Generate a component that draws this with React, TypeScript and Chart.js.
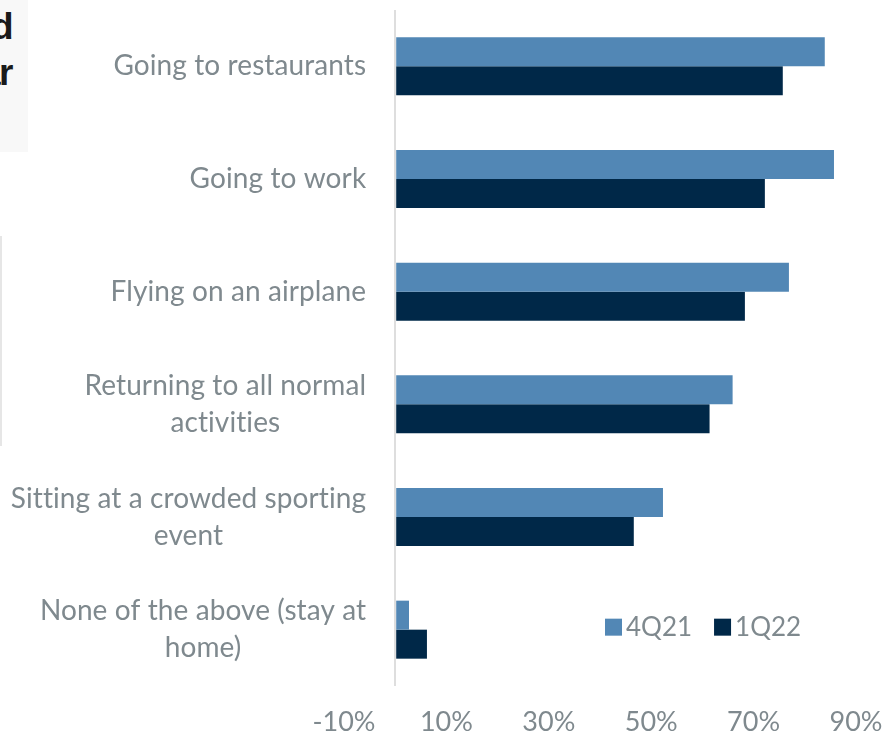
import React, { useEffect, useRef } from 'react';
import { Chart, registerables } from 'chart.js';

Chart.register(...registerables);

const categories: string[][] = [
  ['Going to restaurants'],
  ['Going to work'],
  ['Flying on an airplane'],
  ['Returning to all normal', 'activities'],
  ['Sitting at a crowded sporting', 'event'],
  ['None of the above (stay at', 'home)'],
];
const seriesNames = ['4Q21', '1Q22'];
const values4Q21 = [83.9, 85.7, 76.9, 65.9, 52.3, 2.7];
const values1Q22 = [75.7, 72.2, 68.3, 61.4, 46.6, 6.2];
const tickValues = [-10, 10, 30, 50, 70, 90];
const tickLabels = ['-10%', '10%', '30%', '50%', '70%', '90%'];

const COLORS = ['#5287b5', '#002848'];
const TEXT = '#7f898e';
const FONT = 'Lato, "Noto Sans", sans-serif';
const FS_CAT = 28;
const FS_TICK = 27;
const FS_LEG = 26;

const catLabelPlugin = {
  id: 'catLabels',
  afterDraw(chart: any) {
    const { ctx } = chart;
    const x = chart.scales.x;
    const y = chart.scales.y;
    ctx.save();
    ctx.font = `${FS_CAT}px ${FONT}`;
    try { (ctx as any).letterSpacing = '0.1px'; } catch (e) {}
    ctx.fillStyle = TEXT;
    ctx.textBaseline = 'middle';
    ctx.textAlign = 'center';
    const right = x.getPixelForValue(0) - 29;
    categories.forEach((lines, i) => {
      const cy = y.getPixelForValue(i);
      const w = Math.max(...lines.map((l) => ctx.measureText(l).width));
      const cx = right - w / 2;
      const lh = 37;
      lines.forEach((l, j) => {
        ctx.fillText(l, cx, cy + (j - (lines.length - 1) / 2) * lh);
      });
    });
    ctx.restore();
  },
};

const legendPlugin = {
  id: 'innerLegend',
  afterDraw(chart: any) {
    const { ctx, chartArea } = chart;
    const y = chart.scales.y;
    ctx.save();
    ctx.font = `${FS_LEG}px ${FONT}`;
    ctx.textBaseline = 'middle';
    ctx.textAlign = 'left';
    const cy = y.getPixelForValue(categories.length - 1) - 3;
    let lx = chartArea.right - 251;
    chart.data.datasets.forEach((ds: any) => {
      ctx.fillStyle = ds.backgroundColor;
      ctx.fillRect(lx, cy - 8, 17, 17);
      ctx.fillStyle = TEXT;
      ctx.fillText(ds.label, lx + 21, cy + 1);
      lx += 21 + ctx.measureText(ds.label).width + 22;
    });
    ctx.restore();
  },
};

export default function App() {
  const ref = useRef<HTMLCanvasElement | null>(null);
  useEffect(() => {
    if (!ref.current) return;
    const chart = new Chart(ref.current, {
      type: 'bar',
      data: {
        labels: categories.map((c) => c.join(' ')),
        datasets: [
          { label: seriesNames[0], data: values4Q21, backgroundColor: COLORS[0] },
          { label: seriesNames[1], data: values1Q22, backgroundColor: COLORS[1] },
        ],
      },
      options: {
        indexAxis: 'y',
        responsive: false,
        animation: false,
        layout: { padding: { left: 344, right: 31, top: 10, bottom: 2 } },
        datasets: { bar: { categoryPercentage: 0.515, barPercentage: 1 } },
        plugins: { legend: { display: false }, tooltip: { enabled: false } },
        scales: {
          y: { display: false },
          x: {
            min: -10,
            max: 90,
            afterBuildTicks: (scale: any) => {
              const vals = [...tickValues, 0].sort((a, b) => a - b);
              scale.ticks = vals.map((v) => ({ value: v }));
            },
            afterFit: (scale: any) => {
              scale.height = 51;
              scale.paddingLeft = 0;
              scale.paddingRight = 0;
            },
            border: { display: false },
            grid: {
              drawTicks: false,
              color: (c: any) => (c.tick && c.tick.value === 0 ? '#dedede' : 'rgba(0,0,0,0)'),
              lineWidth: 2,
            },
            ticks: {
              autoSkip: false,
              maxRotation: 0,
              padding: 20,
              color: TEXT,
              font: { family: FONT, size: FS_TICK },
              callback: (v: any) => {
                const idx = tickValues.indexOf(Number(v));
                return idx >= 0 ? tickLabels[idx] : '';
              },
            },
          },
        },
      },
      plugins: [catLabelPlugin, legendPlugin],
    });
    return () => chart.destroy();
  }, []);
  return (
    <div style={{ position: 'fixed', left: 0, top: 0, width: 887, height: 739, background: '#fff', overflow: 'hidden' }}>
      <div style={{ position: 'absolute', left: 0, top: 0, width: 28, height: 152, background: '#f8f8f8' }} />
      <div style={{ position: 'absolute', left: 0, top: 236, width: 2, height: 210, background: '#e6e6e6' }} />
      <div style={{ position: 'absolute', right: 875, top: 4, fontFamily: '"Liberation Sans", Arial, sans-serif', fontWeight: 'bold', fontSize: 37, lineHeight: '46px', color: '#1a1a1a', letterSpacing: -1.5, textAlign: 'right', whiteSpace: 'nowrap' }}>
        d<br />ar
      </div>
      <canvas ref={ref} width={887} height={739} style={{ position: 'absolute', left: 0, top: 0 }} />
    </div>
  );
}
